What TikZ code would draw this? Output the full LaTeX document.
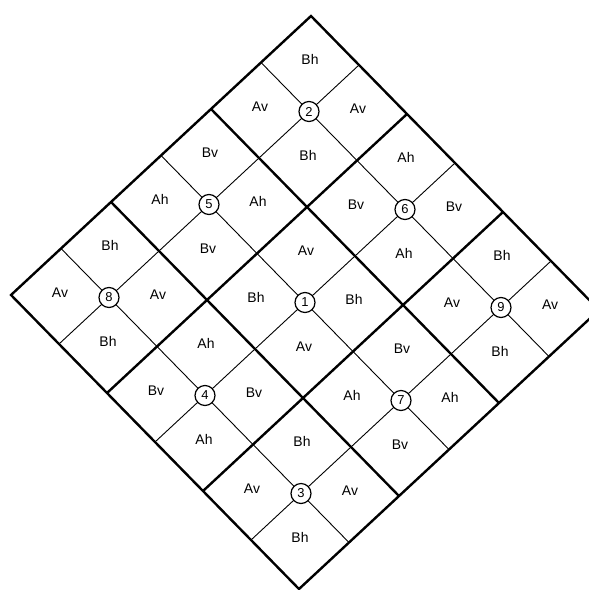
\documentclass[tikz,border=0pt]{standalone}
\usepackage{fontspec}
\setmainfont{Liberation Sans}
\begin{document}
\begin{tikzpicture}[
  x=1bp, y=1bp,
  font=\fontsize{14}{16}\selectfont,
  gridthin/.style={line width=0.9bp},
  gridthick/.style={line width=2.4bp, line join=miter},
  numcircle/.style={draw, circle, fill=white, line width=1.2bp, minimum size=20bp, inner sep=0pt, font=\fontsize{13}{15}\selectfont},
  cell/.style={inner sep=0pt}
]
  \clip (0,0) rectangle (589,-590);
  \useasboundingbox (0,0) rectangle (589,-590);
  \begin{scope}[shift={(311,-16)}, x={(48bp,-49bp)}, y={(-50bp,-46.5bp)}]
    % thin lines through the block centres
    \foreach \k in {1,3,5} {
      \draw[gridthin] (\k,0) -- (\k,6);
      \draw[gridthin] (0,\k) -- (6,\k);
    }
    % thick block borders
    \foreach \k in {2,4} {
      \draw[gridthick] (\k,0) -- (\k,6);
      \draw[gridthick] (0,\k) -- (6,\k);
    }
    \draw[gridthick] (0,0) -- (6,0) -- (6,6) -- (0,6) -- cycle;
    % blocks: column, row, number, top/bottom label, left/right label
    \foreach \p/\q/\n/\tb/\lr in {0/0/2/Bh/Av, 1/0/6/Ah/Bv, 0/1/5/Bv/Ah,
        2/0/9/Bh/Av, 1/1/1/Av/Bh, 0/2/8/Bh/Av, 2/1/7/Bv/Ah, 1/2/4/Ah/Bv, 2/2/3/Bh/Av} {
      \node[numcircle] (c\n) at ({2*\p+1},{2*\q+1}) {\n};
      \node[cell, yshift=4bp] (t\n) at ({2*\p+0.5},{2*\q+0.5}) {\tb};
      \node[cell, yshift=4bp] (b\n) at ({2*\p+1.5},{2*\q+1.5}) {\tb};
      \node[cell, yshift=4bp] (l\n) at ({2*\p+0.5},{2*\q+1.5}) {\lr};
      \node[cell, yshift=4bp] (r\n) at ({2*\p+1.5},{2*\q+0.5}) {\lr};
    }
  \end{scope}
\end{tikzpicture}
\end{document}
